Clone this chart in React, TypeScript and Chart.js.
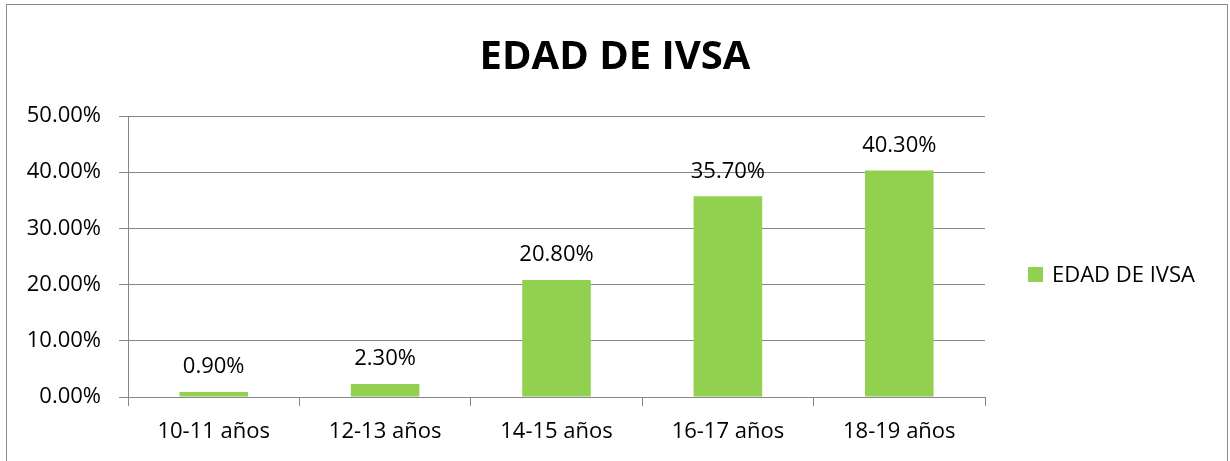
import React, { useEffect, useRef } from "react";
import { Chart, registerables } from "chart.js";

Chart.register(...registerables);

const categories: string[] = ["10-11 años", "12-13 años", "14-15 años", "16-17 años", "18-19 años"];
const seriesLabel = "EDAD DE IVSA";
const values: number[] = [0.9, 2.3, 20.8, 35.7, 40.3];
const yTicks: number[] = [0, 10, 20, 30, 40, 50];
const chartTitle = "EDAD DE IVSA";

const FONT = "'Open Sans', 'DejaVu Sans', sans-serif";
const GRID = "#868686";
const BAR = "#92D050";

const framePlugin = {
  id: "frame",
  beforeDraw(chart: any) {
    const ctx = chart.ctx;
    ctx.save();
    ctx.fillStyle = "#ffffff";
    ctx.fillRect(0, 0, chart.width, chart.height);
    ctx.strokeStyle = "#8c8c8c";
    ctx.lineWidth = 1;
    ctx.strokeRect(6.5, 4.5, 1221, 520);
    ctx.restore();
  },
};

const valueLabelPlugin = {
  id: "valueLabels",
  afterDatasetsDraw(chart: any) {
    const ctx = chart.ctx;
    const meta = chart.getDatasetMeta(0);
    const data = chart.data.datasets[0].data as number[];
    ctx.save();
    ctx.font = `22px ${FONT}`;
    ctx.fillStyle = "#000";
    ctx.textAlign = "center";
    ctx.textBaseline = "middle";
    meta.data.forEach((bar: any, i: number) => {
      ctx.fillText(`${data[i].toFixed(2)}%`, bar.x, bar.y - 25);
    });
    ctx.restore();
  },
};

const legendPlugin = {
  id: "sideLegend",
  afterDraw(chart: any) {
    const ctx = chart.ctx;
    const ds = chart.data.datasets[0];
    const cy = (chart.chartArea.top + chart.chartArea.bottom) / 2 + 18;
    ctx.save();
    ctx.fillStyle = ds.backgroundColor;
    ctx.fillRect(1028, cy - 7.5, 15, 15);
    ctx.font = `22px ${FONT}`;
    ctx.fillStyle = "#000";
    ctx.textAlign = "left";
    ctx.textBaseline = "middle";
    ctx.fillText(ds.label, 1052, cy + 1);
    ctx.restore();
  },
};

export default function App() {
  const ref = useRef<HTMLCanvasElement | null>(null);
  useEffect(() => {
    if (!ref.current) return;
    const chart = new Chart(ref.current, {
      type: "bar",
      data: {
        labels: categories,
        datasets: [
          {
            label: seriesLabel,
            data: values,
            backgroundColor: BAR,
            borderWidth: 0,
            barPercentage: 0.4,
            categoryPercentage: 1,
          },
        ],
      },
      options: {
        animation: false,
        responsive: false,
        maintainAspectRatio: false,
        layout: { padding: 0 },
        plugins: {
          legend: { display: false },
          tooltip: { enabled: false },
          title: {
            display: true,
            text: chartTitle,
            color: "#000",
            font: { family: FONT, size: 40, weight: "bold", lineHeight: 1.2 },
            padding: { top: 34, bottom: 34 },
          },
        },
        scales: {
          x: {
            type: "category",
            offset: true,
            grid: {
              display: true,
              offset: true,
              drawOnChartArea: false,
              drawTicks: true,
              tickLength: 9,
              color: GRID,
            },
            border: { display: true, color: GRID, width: 1 },
            ticks: {
              color: "#000",
              font: { family: FONT, size: 22 },
              padding: 13,
              maxRotation: 0,
              autoSkip: false,
            },
            afterFit: (s: any) => {
              s.height = 64;
            },
          },
          y: {
            min: 0,
            max: 50,
            afterBuildTicks: (s: any) => {
              s.ticks = yTicks.map((v) => ({ value: v }));
            },
            grid: {
              display: true,
              color: GRID,
              drawTicks: true,
              tickLength: 9,
            },
            border: { display: true, color: GRID, width: 1 },
            ticks: {
              color: "#000",
              font: { family: FONT, size: 22 },
              padding: 18,
              callback: (v: any) => `${Number(v).toFixed(2)}%`,
            },
            afterFit: (s: any) => {
              s.width = 128;
            },
          },
          legendSpace: {
            type: "linear",
            position: "right",
            display: true,
            grid: { display: false, drawTicks: false },
            border: { display: false },
            ticks: { display: false },
            afterFit: (s: any) => {
              s.width = 245;
            },
          },
        },
      },
      plugins: [framePlugin, valueLabelPlugin, legendPlugin],
    });
    return () => chart.destroy();
  }, []);

  return (
    <div style={{ position: "fixed", left: 0, top: 0, width: 1230, height: 461, background: "#fff" }}>
      <canvas ref={ref} width={1230} height={461} style={{ width: "1230px", height: "461px", display: "block" }} />
    </div>
  );
}
